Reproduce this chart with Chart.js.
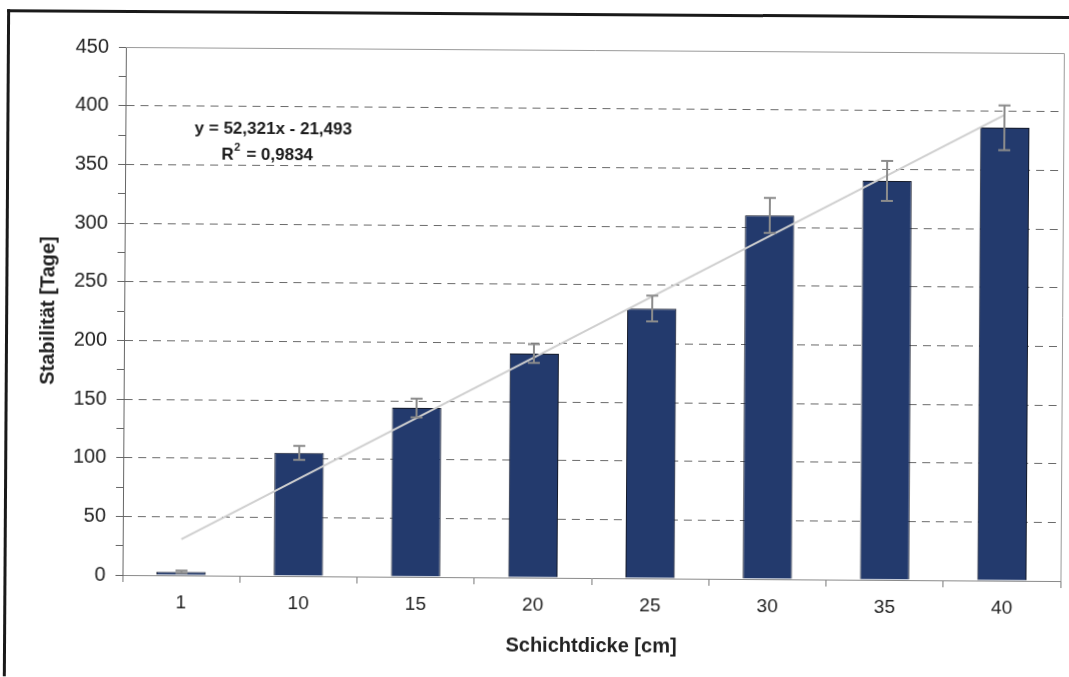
<!DOCTYPE html>
<html lang="de">
<head>
<meta charset="utf-8">
<title>Stabilität in Abhängigkeit der Schichtdicke</title>
<script src="https://cdn.jsdelivr.net/npm/chart.js@4.4.1/dist/chart.umd.min.js"></script>
<style>
  html, body { margin: 0; padding: 0; background: #fff; }
  #sheet {
    position: relative; width: 1069px; height: 677px; overflow: hidden;
    transform: rotate(0.37deg); transform-origin: 124px 340px;
  }
  #frame {
    position: absolute; left: 5px; top: 10px; width: 1200px; height: 900px;
    border-left: 3px solid #1a1a1a; border-top: 3px solid #1a1a1a;
  }
  #wrap { position: absolute; left: 0; top: 0; width: 1069px; height: 677px; }
</style>
</head>
<body>
<div id="sheet">
  <div id="frame"></div>
  <div id="wrap"><canvas id="chart"></canvas></div>
</div>
<script>
// Schichtdicke categories and measured stability (days) with standard deviations
const categories = ['1', '10', '15', '20', '25', '30', '35', '40'];
const stability  = [3, 105, 144, 191, 230, 310, 340, 386];
const deviation  = [1, 6, 8, 8, 11, 15, 17, 19];

// Linear regression over the category index (1..8)
const slope = 52.321;
const intercept = -21.493;
const rSquared = 0.9834;

const yMin = 0, yMax = 450, yMajor = 50, yMinor = 25;

// Regression line endpoints at the first and last category
const trend = categories.map((_, i) =>
  (i === 0 || i === categories.length - 1) ? intercept + slope * (i + 1) : null);

const fmt = (v, d) => v.toFixed(d).replace('.', ',');
const equation = 'y = ' + fmt(slope, 3) + 'x ' + (intercept < 0 ? '- ' : '+ ') + fmt(Math.abs(intercept), 3);
const rText = '= ' + fmt(rSquared, 4);

const FONT = '"Liberation Sans", Arial, sans-serif';

// Error bars, plot frame and regression label
const extras = {
  id: 'extras',
  beforeDatasetsDraw(chart) {
    const { ctx, chartArea: a } = chart;
    ctx.save();
    ctx.strokeStyle = '#9a9a9a';
    ctx.lineWidth = 1;
    ctx.beginPath();
    ctx.moveTo(a.left, a.top + 0.5);
    ctx.lineTo(a.right + 0.5, a.top + 0.5);
    ctx.lineTo(a.right + 0.5, a.bottom);
    ctx.stroke();
    ctx.restore();
  },
  afterDatasetsDraw(chart) {
    const { ctx } = chart;
    const xs = chart.scales.x, ys = chart.scales.y;
    ctx.save();
    ctx.strokeStyle = '#8c8c8c';
    ctx.lineWidth = 2;
    stability.forEach((v, i) => {
      const e = deviation[i];
      if (!e) return;
      const x = Math.round(xs.getPixelForValue(i));
      const yT = ys.getPixelForValue(v + e);
      const yB = ys.getPixelForValue(v - e);
      ctx.beginPath();
      ctx.moveTo(x, yT); ctx.lineTo(x, yB);
      ctx.moveTo(x - 6, yT); ctx.lineTo(x + 6, yT);
      ctx.moveTo(x - 6, yB); ctx.lineTo(x + 6, yB);
      ctx.stroke();
    });
    ctx.restore();
  },
  afterDraw(chart) {
    const { ctx } = chart;
    ctx.save();
    ctx.fillStyle = '#1a1a1a';
    ctx.textBaseline = 'middle';
    ctx.textAlign = 'center';
    ctx.font = 'bold 17px ' + FONT;
    ctx.fillText(equation, 272, 128);
    // R² line with raised exponent
    const rW = ctx.measureText('R').width;
    const tW = ctx.measureText(' ' + rText).width;
    const supW = 8;
    const total = rW + supW + tW;
    const x0 = 266 - total / 2;
    ctx.textAlign = 'left';
    ctx.fillText('R', x0, 154);
    ctx.font = 'bold 11px ' + FONT;
    ctx.fillText('2', x0 + rW + 0.5, 147);
    ctx.font = 'bold 17px ' + FONT;
    ctx.fillText(' ' + rText, x0 + rW + supW, 154);
    ctx.restore();
  }
};

new Chart(document.getElementById('chart'), {
  data: {
    labels: categories,
    datasets: [
      {
        type: 'line',
        label: 'Linear',
        data: trend,
        spanGaps: true,
        borderColor: '#cfcfcf',
        borderWidth: 2,
        pointRadius: 0,
        fill: false,
        order: 0
      },
      {
        type: 'bar',
        label: 'Stabilität',
        data: stability,
        backgroundColor: '#233a6d',
        borderColor: '#141a2a',
        borderWidth: 1,
        barPercentage: 1,
        categoryPercentage: 0.42,
        order: 1
      }
    ]
  },
  options: {
    responsive: true,
    maintainAspectRatio: false,
    animation: false,
    layout: { padding: { top: 47, right: 7, bottom: 18, left: 32 } },
    plugins: { legend: { display: false }, tooltip: { enabled: false } },
    scales: {
      x: {
        type: 'category',
        offset: true,
        grid: {
          offset: true,
          drawOnChartArea: false,
          drawTicks: true,
          tickLength: 7,
          tickColor: '#777'
        },
        border: { color: '#8a8a8a', width: 1 },
        ticks: { color: '#222', font: { family: FONT, size: 19 }, padding: 9, maxRotation: 0 },
        title: {
          display: true, text: 'Schichtdicke [cm]', color: '#222',
          font: { family: FONT, size: 20, weight: 'bold' },
          padding: { top: 4, bottom: 4 }
        },
        afterFit(s) { s.height = 84; }
      },
      y: {
        min: yMin, max: yMax,
        grid: {
          color: c => (c.tick && c.tick.value % yMajor === 0 && c.tick.value > yMin && c.tick.value < yMax) ? '#6a6a6a' : 'rgba(0,0,0,0)',
          tickColor: '#666',
          lineWidth: 1,
          tickLength: 7
        },
        border: { color: '#666', width: 1, dash: [8, 6] },
        ticks: {
          stepSize: yMinor,
          color: '#222',
          font: { family: FONT, size: 20 },
          padding: 10,
          callback: v => (v % yMajor === 0 ? v : '')
        },
        title: {
          display: true, text: 'Stabilität [Tage]', color: '#222',
          font: { family: FONT, size: 20, weight: 'bold' },
          padding: { top: 4, bottom: 4 }
        },
        afterFit(s) { s.width = 92; }
      }
    }
  },
  plugins: [extras]
});
</script>
</body>
</html>
